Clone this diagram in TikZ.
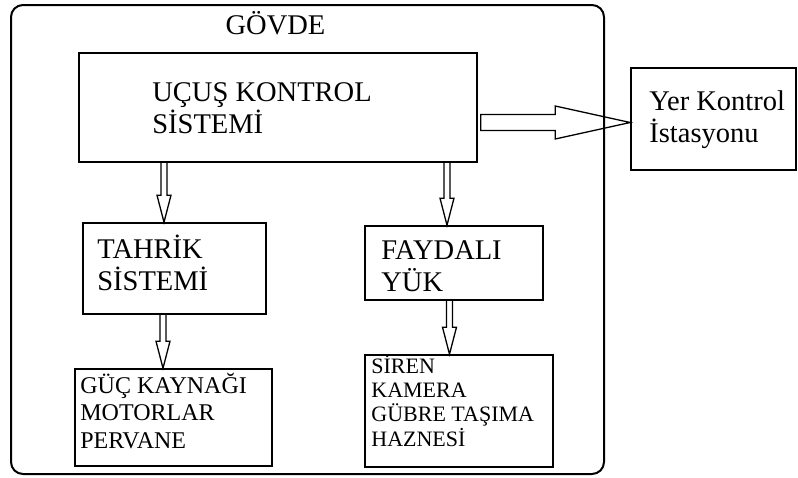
\documentclass[tikz,border=0pt]{standalone}
\usepackage{fontspec}
\setmainfont{Liberation Serif}
\usetikzlibrary{calc, positioning}

\newcommand{\bigtxt}{\fontsize{28.5}{32}\selectfont}
\newcommand{\midtxt}{\fontsize{24}{27.5}\selectfont}
\newcommand{\smltxt}{\fontsize{22}{24.3}\selectfont}

% blok ok: x, kaynak, hedef
\newcommand{\blkdown}[3]{%
  \draw[arw] let \p0=(#1,0), \p1=(#2.south), \p2=(#3.north) in
    (\x0-3pt,\y1) -- (\x0-3pt,\y2+27pt) -- (\x0-7pt,\y2+27pt) -- (\x0,\y2)
    -- (\x0+7pt,\y2+27pt) -- (\x0+3pt,\y2+27pt) -- (\x0+3pt,\y1);}

\tikzset{
  box/.style={draw, line width=1.6pt, inner sep=0pt},
  lbl/.style={anchor=base west, align=left, inner sep=0pt},
  arw/.style={line width=1.3pt, line join=miter},
}

\begin{document}
\begin{tikzpicture}[x=1pt, y=-1pt]
            \useasboundingbox (0,0) rectangle (798,477);
            % Gövde
            \node[draw, line width=2pt, rounded corners=12pt, minimum width=593pt, minimum height=469pt] (gvd) at (307.5,239.5) {};
            \node[lbl, font=\bigtxt, anchor=base] (gvt) at ($(gvd.north)+(-32,30)$) {GÖVDE};
            
            % Kutular
            \node[box, minimum width=398pt, minimum height=109pt] (ukb) at (278,107.5) {};
            \node[box, minimum width=165pt, minimum height=102pt] (ykb) at (713.5,119) {};
            \node[box, minimum width=183pt, minimum height=91pt] (tsb) at (174.5,268.5) {};
            \node[box, minimum width=178pt, minimum height=74pt] (fyb) at (454,263) {};
            \node[box, minimum width=197pt, minimum height=97pt] (gkb) at (173.5,417.5) {};
            \node[box, minimum width=188pt, minimum height=112pt] (srb) at (459,411) {};
            
            % Yazılar (son satırın tabanı)
            \node[lbl, font=\bigtxt] (ukt) at ($(ukb.north west)+(74,81)$) {UÇUŞ KONTROL\\SİSTEMİ};
            \node[lbl, font=\bigtxt] (ykt) at ($(ykb.north west)+(19,75)$) {Yer Kontrol\\İstasyonu};
            \node[lbl, font=\bigtxt] (tst) at ($(tsb.north west)+(15,68)$) {TAHRİK\\SİSTEMİ};
            \node[lbl, font=\bigtxt] (fyt) at ($(fyb.north west)+(17,66)$) {FAYDALI\\YÜK};
            \node[lbl, font=\midtxt] (gkt) at ($(gkb.north west)+(6,80)$) {GÜÇ KAYNAĞI\\MOTORLAR\\PERVANE};
            \node[lbl, font=\smltxt] (srt) at ($(srb.north west)+(7,92)$) {SİREN\\KAMERA\\GÜBRE TAŞIMA\\HAZNESİ};
            
            % Oklar
            \blkdown{164}{ukb}{tsb}
            \blkdown{447}{ukb}{fyb}
            \blkdown{163}{tsb}{gkb}
            \blkdown{449.5}{fyb}{srb}
            \draw[arw] let \p0=(0,122.5), \p1=(ukb.east), \p2=(ykb.west) in
              (\x1+3pt,\y0+8pt) -- (\x2-75pt,\y0+8pt) -- (\x2-75pt,\y0+16.5pt) -- (\x2,\y0)
              -- (\x2-75pt,\y0-16.5pt) -- (\x2-75pt,\y0-8pt) -- (\x1+3pt,\y0-8pt) -- cycle;
        \end{tikzpicture}
\end{document}
